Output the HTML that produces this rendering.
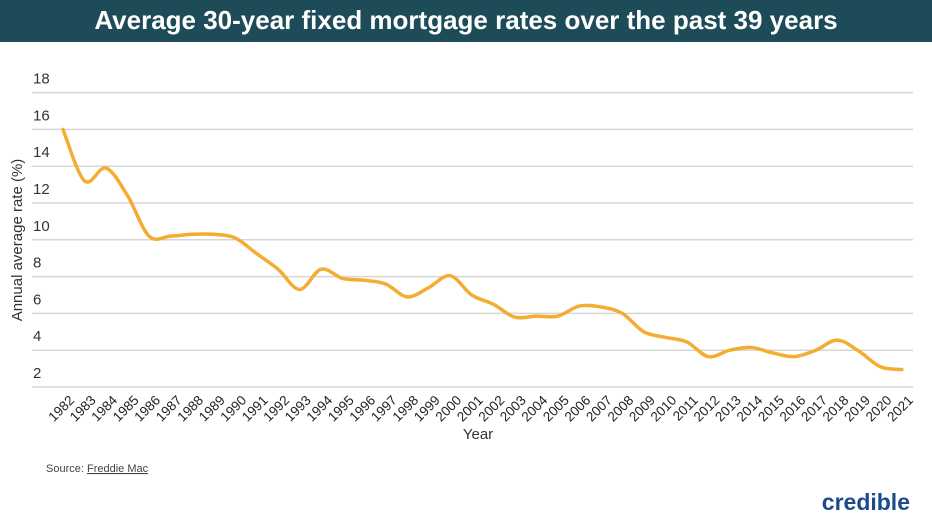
<!DOCTYPE html>
<html><head><meta charset="utf-8"><style>
body{margin:0;width:932px;height:524px;background:#fff;overflow:hidden;font-family:"Liberation Sans",sans-serif}
.hdr{position:absolute;left:0;top:0;width:932px;height:42px;background:#1d4b57;color:#fff;font-weight:bold;font-size:26px;text-align:center;line-height:40px}
</style></head><body>
<div class="hdr">Average 30-year fixed mortgage rates over the past 39 years</div>
<svg id="s" width="932" height="524" style="position:absolute;left:0;top:0"></svg>
<script>
var d=[16.0,13.2,13.9,12.4,10.2,10.2,10.3,10.3,10.1,9.25,8.4,7.3,8.4,7.9,7.8,7.6,6.9,7.4,8.05,7.0,6.5,5.8,5.85,5.85,6.4,6.35,6.0,5.0,4.7,4.45,3.65,4.0,4.15,3.85,3.65,4.0,4.55,3.95,3.1,2.95];
function Y(v){return 387-(v-2)*18.4}function X(i){return 63+i*21.51}
var h='';
for(var v=2;v<=18;v+=2){var y=Y(v);h+='<line x1="32" x2="913" y1="'+y+'" y2="'+y+'" stroke="#d6d6d6" stroke-width="1.5"/>';
h+='<text x="33" y="'+(y-9)+'" font-size="15" fill="#333">'+v+'</text>';}
var p=[];for(var i=0;i<d.length;i++)p.push([X(i),Y(d[i])]);
var s='M'+p[0][0]+','+p[0][1];
for(var i=0;i<p.length-1;i++){var a=p[Math.max(i-1,0)],b=p[i],c=p[i+1],e=p[Math.min(i+2,p.length-1)];
s+=' C'+(b[0]+(c[0]-a[0])/6)+','+(b[1]+(c[1]-a[1])/6)+' '+(c[0]-(e[0]-b[0])/6)+','+(c[1]-(e[1]-b[1])/6)+' '+c[0]+','+c[1];}
h+='<path d="'+s+'" fill="none" stroke="#f2ad32" stroke-width="3.5" stroke-linecap="round"/>';
for(var i=0;i<d.length;i++){var x=X(i)+5,y=394;h+='<text transform="translate('+x+','+y+') rotate(-45)" text-anchor="end" font-size="13.5" fill="#222" dy="10">'+(1982+i)+'</text>';}
h+='<text x="478" y="439" text-anchor="middle" font-size="15" fill="#333">Year</text>';
h+='<text transform="translate(22,240) rotate(-90)" text-anchor="middle" font-size="15" fill="#333">Annual average rate (%)</text>';
h+='<text x="46" y="472" font-size="11" fill="#444">Source: <tspan text-decoration="underline">Freddie Mac</tspan></text>';
h+='<text x="910" y="510" text-anchor="end" font-size="23" font-weight="bold" fill="#1b4b8c">credible</text>';
document.getElementById('s').innerHTML=h;
</script>
</body></html>
